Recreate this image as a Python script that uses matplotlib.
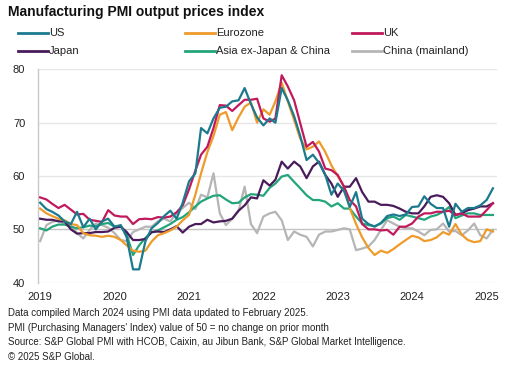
import numpy as np
import pandas as pd
import matplotlib
matplotlib.use("Agg")
import matplotlib.pyplot as plt
import matplotlib.dates as mdates
from matplotlib.lines import Line2D

plt.rcParams["font.family"] = ["Liberation Sans", "DejaVu Sans"]

# monthly PMI output prices index, Jan 2019 - Feb 2025
months = pd.date_range("2019-01-01", periods=74, freq="MS")

us = [55.0, 53.8, 53.3, 52.6, 51.5, 51.0, 53.3, 50.4, 52.0, 50.0, 51.5, 52.0,
      50.5, 50.8, 48.5, 42.5, 42.5, 47.8, 50.2, 51.2, 52.5, 53.5, 52.0, 55.0,
      59.0, 60.5, 69.0, 68.0, 70.8, 72.8, 73.0, 74.0, 74.2, 76.5, 73.5, 71.0,
      69.5, 70.8, 70.0, 76.5, 74.2, 71.2, 67.5, 63.0, 64.0, 62.5, 60.2, 56.5,
      58.6, 57.2, 54.2, 57.0, 52.0, 51.0, 50.5, 51.2, 52.5, 52.8, 52.5, 52.8,
      54.2, 54.3, 56.2, 54.8, 54.0, 54.0, 50.5, 54.8, 53.3, 54.0, 54.0, 54.5,
      55.5, 57.7]
eurozone = [53.9, 53.0, 52.5, 52.0, 51.7, 51.0, 50.8, 49.3, 48.9, 48.8, 48.6, 48.8,
            48.6, 48.0, 47.0, 46.0, 45.8, 46.0, 47.7, 48.9, 49.3, 49.8, 50.5, 51.7,
            52.7, 56.5, 60.5, 64.5, 67.5, 71.5, 72.0, 68.6, 71.0, 73.0, 73.8, 70.0,
            72.5, 71.5, 74.0, 77.5, 74.0, 70.5, 67.0, 65.0, 65.5, 66.5, 64.5, 62.0,
            60.0, 58.0, 54.0, 51.0, 48.5, 46.5, 45.2, 46.0, 45.6, 46.3, 47.2, 48.0,
            48.8, 48.5, 47.8, 48.0, 48.5, 49.5, 49.0, 51.0, 49.0, 48.0, 47.6, 47.8,
            50.0, 49.6]
uk = [56.0, 55.6, 54.8, 54.0, 54.6, 53.7, 52.8, 52.9, 51.8, 51.6, 51.4, 53.6,
      52.6, 52.4, 52.4, 51.0, 51.9, 52.0, 51.9, 52.3, 52.2, 52.4, 53.2, 54.5,
      57.5, 61.0, 64.0, 65.5, 69.0, 73.3, 73.2, 72.2, 73.3, 74.3, 74.3, 74.5,
      70.8, 70.2, 70.8, 78.9, 76.8, 74.2, 69.9, 65.5, 66.4, 64.6, 61.4, 61.1,
      60.2, 58.0, 55.5, 54.3, 51.0, 50.0, 50.0, 49.8, 49.9, 49.0, 50.5, 50.5,
      51.1, 52.4, 53.0, 53.0, 53.3, 53.3, 53.5, 52.7, 53.0, 52.4, 52.4, 52.4,
      53.6, 54.9]
japan = [52.0, 51.8, 51.8, 51.5, 51.5, 50.0, 49.2, 49.3, 49.3, 49.5, 49.5, 49.6,
         50.3, 50.5, 49.5, 48.0, 48.0, 48.2, 49.5, 49.6, 49.5, 50.0, 50.6, 49.4,
         50.5, 51.0, 51.0, 51.8, 51.3, 51.5, 51.6, 52.0, 53.5, 54.5, 56.0, 55.8,
         59.2, 58.2, 59.3, 62.7, 61.4, 62.7, 61.8, 59.6, 61.8, 62.7, 60.2, 58.6,
         56.1, 58.0, 58.0, 59.6, 57.0, 55.2, 55.2, 54.6, 54.6, 54.4, 53.9, 53.3,
         53.0, 53.0, 54.3, 56.1, 56.4, 56.1, 54.9, 52.7, 53.0, 53.6, 53.9, 54.3,
         54.3, 54.9]
asia = [50.2, 49.8, 50.5, 50.9, 50.9, 50.5, 50.2, 50.4, 50.7, 50.6, 51.0, 51.2,
        50.5, 50.6, 49.0, 45.2, 47.0, 48.4, 49.4, 49.8, 50.4, 51.0, 51.8, 52.3,
        53.2, 54.3, 55.2, 55.8, 56.3, 56.4, 55.6, 54.9, 55.0, 56.0, 56.6, 56.5,
        56.3, 57.8, 58.6, 59.9, 60.2, 58.9, 57.7, 56.4, 55.5, 55.5, 55.2, 54.3,
        54.9, 53.9, 53.9, 52.4, 51.1, 50.8, 50.6, 51.1, 52.1, 52.4, 51.8, 52.7,
        52.4, 52.1, 51.8, 52.4, 52.7, 53.3, 54.2, 52.1, 52.6, 53.0, 53.0, 52.7,
        52.7, 52.7]
china = [47.8, 50.8, 51.4, 51.7, 51.0, 50.8, 49.3, 48.3, 49.9, 51.1, 50.8, 50.3,
         49.3, 48.0, 47.8, 49.5, 50.0, 50.5, 50.5, 51.5, 52.0, 51.5, 53.0, 54.0,
         55.0, 53.8, 56.5, 56.0, 60.5, 53.0, 50.8, 52.0, 53.5, 58.0, 51.0, 49.3,
         52.4, 53.0, 53.3, 51.7, 48.0, 49.6, 49.0, 48.6, 46.8, 49.0, 49.6, 49.6,
         49.9, 50.2, 50.0, 46.1, 46.4, 46.8, 48.0, 49.9, 51.7, 51.1, 50.5, 50.2,
         50.2, 49.6, 48.9, 49.9, 50.0, 51.1, 49.6, 49.7, 48.9, 49.8, 51.1, 48.9,
         48.3, 49.9]

names = ["US", "Eurozone", "UK", "Japan", "Asia ex-Japan & China", "China (mainland)"]
colors = ["#1b7a8e", "#ee9b2a", "#c01a5c", "#4a1b5b", "#22a57b", "#b5b5b5"]
series = [us, eurozone, uk, japan, asia, china]

W, H = 520, 371
fig = plt.figure(figsize=(W / 100, H / 100), dpi=100)
ax = fig.add_axes([0.0725, 0.238, 0.8825, 0.575])

# grey at the back, US on top
for idx in [5, 4, 3, 1, 2, 0]:
    ax.plot(months, series[idx], color=colors[idx], lw=1.6, zorder=3)

ax.set_ylim(40, 80)
ax.set_yticks([40, 50, 60, 70, 80])
ax.set_xlim(pd.Timestamp("2018-12-20"), pd.Timestamp("2025-02-19"))
ax.set_xticks([pd.Timestamp(f"{y}-01-01") for y in range(2019, 2026)])
ax.xaxis.set_major_formatter(mdates.DateFormatter("%Y"))
for y in [40, 60, 70, 80]:
    ax.axhline(y, color="#e6e6e6", lw=1.0, zorder=1)
ax.axhline(50, color="#c4c4c4", lw=1.0, zorder=1)
for s in ["top", "right", "bottom"]:
    ax.spines[s].set_visible(False)
ax.spines["left"].set_color("#c8c8c8")
ax.spines["left"].set_linewidth(1.0)
ax.tick_params(axis="both", length=0, labelsize=8, colors="#222222")
ax.tick_params(axis="x", pad=7)
ax.tick_params(axis="y", pad=9)

# legend: two rows of three, laid out by hand (pixel positions)
col_x = [18, 185, 352]
row_y = [33, 51]
for i, (name, c) in enumerate(zip(names, colors)):
    x0 = col_x[i % 3]
    y0 = 1 - row_y[i // 3] / H
    fig.add_artist(Line2D([x0 / W, (x0 + 30) / W], [y0, y0], color=c, lw=2,
                          transform=fig.transFigure))
    fig.text((x0 + 31) / W, y0, name, fontsize=8, va="center", ha="left",
             color="#222222")

fig.text(0.015, 1 - 12 / H, "Manufacturing PMI output prices index", fontsize=10,
         fontweight="bold", va="center", ha="left", color="#111111")

notes = ["Data compiled March 2024 using PMI data updated to February 2025.",
         "PMI (Purchasing Managers' Index) value of 50 = no change on prior month",
         "Source: S&P Global PMI with HCOB, Caixin, au Jibun Bank, S&P Global Market Intelligence.",
         "\u00a9 2025 S&P Global."]
for i, t in enumerate(notes):
    fig.text(0.016, 1 - (313 + 14.7 * i) / H, t, fontsize=7, va="center",
             ha="left", color="#222222")

fig.savefig("out.png", dpi=100)
